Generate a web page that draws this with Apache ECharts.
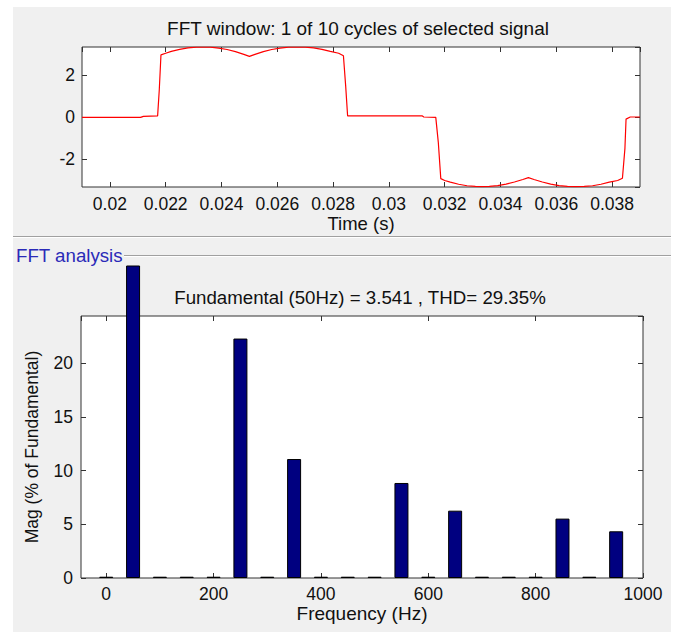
<!DOCTYPE html>
<html>
<head>
<meta charset="utf-8">
<title>FFT analysis</title>
<script src="https://cdn.jsdelivr.net/npm/echarts@6/dist/echarts.min.js"></script>
<style>
  html, body { margin: 0; padding: 0; background: #fff; }
  .wrap { position: relative; width: 676px; height: 632px; }
  .panel { position: absolute; left: 13px; top: 7px; width: 658px; height: 625px; background: #f0f0f0; }
  .fft { position: absolute; left: 0; top: 0; width: 676px; height: 632px; }
</style>
</head>
<body>
<div class="wrap">
  <div class="panel"></div>
  <div class="fft"></div>
</div>
<script>
// selected signal, one cycle (time in s)
var timePoints = [0.019, 0.0211, 0.0212, 0.02171, 0.02177, 0.02183, 0.0220, 0.0222, 0.0225, 0.0228,
  0.0231, 0.02333, 0.0236, 0.0239, 0.0242, 0.0245, 0.0248, 0.0250, 0.0252, 0.0255,
  0.0258, 0.0261, 0.0264, 0.02667, 0.0270, 0.0273, 0.0276, 0.0279, 0.0282, 0.02837,
  0.02845, 0.02852, 0.0312, 0.03125, 0.03168, 0.03177, 0.03186, 0.0320, 0.0322, 0.0325,
  0.0328, 0.0331, 0.03333, 0.0336, 0.0339, 0.0342, 0.0345, 0.0348, 0.0350, 0.0352,
  0.0355, 0.0358, 0.0361, 0.0364, 0.03667, 0.0370, 0.0373, 0.0376, 0.0379, 0.0382,
  0.03837, 0.03846, 0.0385, 0.03865, 0.039];
var signalValues = [-0.02, -0.02, 0.03, 0.05, 1.3, 2.97, 3.05, 3.14, 3.24, 3.31,
  3.345, 3.35, 3.34, 3.30, 3.23, 3.13, 3.00, 2.90, 3.00, 3.13,
  3.23, 3.30, 3.34, 3.35, 3.345, 3.31, 3.24, 3.14, 3.05, 2.93,
  1.5, 0.05, 0.05, 0.0, -0.02, -1.2, -2.95, -3.04, -3.12, -3.22,
  -3.29, -3.32, -3.33, -3.32, -3.28, -3.21, -3.11, -2.99, -2.90, -2.99,
  -3.11, -3.21, -3.28, -3.32, -3.33, -3.32, -3.29, -3.22, -3.12, -3.04,
  -2.93, -1.5, -0.1, 0.0, 0.0];

// spectrum (Hz, % of fundamental)
var freqs = [0, 50, 100, 150, 200, 250, 300, 350, 400, 450, 500, 550, 600, 650, 700, 750, 800, 850, 900, 950];
var mags = [0.12, 100, 0.12, 0.12, 0.12, 22.3, 0.12, 11.08, 0.12, 0.12, 0.12, 8.85, 0.12, 6.27, 0.12, 0.12, 0.12, 5.53, 0.12, 4.35];

// axis limits
var timeRange = [0.019, 0.039];
var signalRange = [-3.35, 3.35];
var freqRange = [-47, 1000];
var magMax = 24.4;

var topTitle = 'FFT window: 1 of 10 cycles of selected signal';
var bottomTitle = 'Fundamental (50Hz) = 3.541 , THD= 29.35%';

(function() {
  var myChart = echarts.init(document.querySelector(".fft"), null, { renderer: 'svg' });
  var font = "'Liberation Sans', Arial, sans-serif";
  var txt = '#111';
  var fs = 17.5;

  var signalData = timePoints.map(function(t, i) { return [t, signalValues[i]]; });
  var magData = freqs.map(function(f, i) { return [f, mags[i]]; });

  // 柱子画在一个更高的隐藏网格里，超出部分在 266px 处截断
  var plotH = 262, clipH = 312;

  function label(extra) {
    var o = { color: txt, fontSize: fs, fontFamily: font, showMinLabel: false, showMaxLabel: false };
    for (var k in extra) o[k] = extra[k];
    return o;
  }
  function tick() {
    return { inside: true, length: 5, lineStyle: { color: '#333' } };
  }
  function noLine() {
    return { show: false, onZero: false };
  }
  // one side of the box: ticks only
  function side(grid, pos, range, split) {
    var a = {
      type: 'value', gridIndex: grid, position: pos, min: range[0], max: range[1],
      axisLine: noLine(), axisTick: tick(), axisLabel: { show: false }, splitLine: { show: false }
    };
    if (split.interval) a.interval = split.interval; else a.splitNumber = split.n;
    return a;
  }
  function plain(v) {
    return String(+v.toFixed(3));
  }

  var option = {
    animation: false,
    textStyle: { fontFamily: font },
    grid: [
      { left: 82, top: 47, width: 558, height: 140, show: true, backgroundColor: '#fff', borderColor: '#333', borderWidth: 1 },
      { left: 81, top: 316, width: 562, height: plotH, show: true, backgroundColor: '#fff', borderColor: '#333', borderWidth: 1 },
      { left: 81, top: 578 - clipH, width: 562, height: clipH, show: false }
    ],
    xAxis: [
      {
        type: 'value', gridIndex: 0, position: 'bottom', min: timeRange[0], max: timeRange[1], splitNumber: 10,
        axisLine: noLine(), axisTick: tick(), splitLine: { show: false },
        axisLabel: label({ margin: 8, formatter: plain }),
        name: 'Time (s)', nameLocation: 'middle', nameGap: 26,
        nameTextStyle: { color: txt, fontSize: 18.5, fontFamily: font }
      },
      side(0, 'top', timeRange, { n: 10 }),
      {
        type: 'value', gridIndex: 1, position: 'bottom', min: freqRange[0], max: freqRange[1], splitNumber: 5,
        axisLine: noLine(), axisTick: tick(), splitLine: { show: false },
        axisLabel: label({ margin: 7, showMaxLabel: true, formatter: plain }),
        name: 'Frequency (Hz)', nameLocation: 'middle', nameGap: 25,
        nameTextStyle: { color: txt, fontSize: 19, fontFamily: font }
      },
      side(1, 'top', freqRange, { n: 5 }),
      { type: 'value', gridIndex: 2, min: freqRange[0], max: freqRange[1], show: false }
    ],
    yAxis: [
      {
        type: 'value', gridIndex: 0, position: 'left', min: signalRange[0], max: signalRange[1], splitNumber: 3,
        axisLine: noLine(), axisTick: tick(), splitLine: { show: false },
        axisLabel: label({ margin: 7, formatter: plain })
      },
      side(0, 'right', signalRange, { n: 3 }),
      {
        type: 'value', gridIndex: 1, position: 'left', min: 0, max: magMax, interval: 5,
        axisLine: noLine(), axisTick: tick(), splitLine: { show: false },
        axisLabel: label({ margin: 8, showMinLabel: true }),
        name: 'Mag (% of Fundamental)', nameLocation: 'middle', nameGap: 40,
        nameTextStyle: { color: txt, fontSize: 17.5, fontFamily: font }
      },
      side(1, 'right', [0, magMax], { interval: 5 }),
      { type: 'value', gridIndex: 2, min: 0, max: magMax * clipH / plotH, show: false }
    ],
    graphic: [
      { type: 'line', shape: { x1: 13, y1: 236.5, x2: 671, y2: 236.5 }, style: { stroke: '#a0a0a0', lineWidth: 1 } },
      { type: 'line', shape: { x1: 13, y1: 237.5, x2: 671, y2: 237.5 }, style: { stroke: '#ffffff', lineWidth: 1 } },
      { type: 'line', shape: { x1: 124, y1: 255.5, x2: 671, y2: 255.5 }, style: { stroke: '#a0a0a0', lineWidth: 1 } },
      { type: 'line', shape: { x1: 124, y1: 256.5, x2: 671, y2: 256.5 }, style: { stroke: '#ffffff', lineWidth: 1 } },
      { type: 'text', x: 16, y: 255, style: { text: 'FFT analysis', fill: '#2a2ab8', font: '18.7px ' + font, align: 'left', verticalAlign: 'middle' } },
      { type: 'text', x: 358, y: 28, style: { text: topTitle, fill: txt, font: '19px ' + font, align: 'center', verticalAlign: 'middle' } },
      { type: 'text', x: 360, y: 297, style: { text: bottomTitle, fill: txt, font: '18.7px ' + font, align: 'center', verticalAlign: 'middle' } }
    ],
    series: [
      {
        type: 'line', xAxisIndex: 0, yAxisIndex: 0, data: signalData,
        showSymbol: false, lineStyle: { color: '#ff0000', width: 1.2 }, itemStyle: { color: '#ff0000' }
      },
      {
        type: 'bar', xAxisIndex: 4, yAxisIndex: 4, data: magData, barWidth: 14,
        itemStyle: { color: '#000080', borderColor: '#000000', borderWidth: 1 }
      }
    ]
  };
  myChart.setOption(option);
  window.addEventListener("resize", function() {
    myChart.resize();
  });
})();
</script>
</body>
</html>
